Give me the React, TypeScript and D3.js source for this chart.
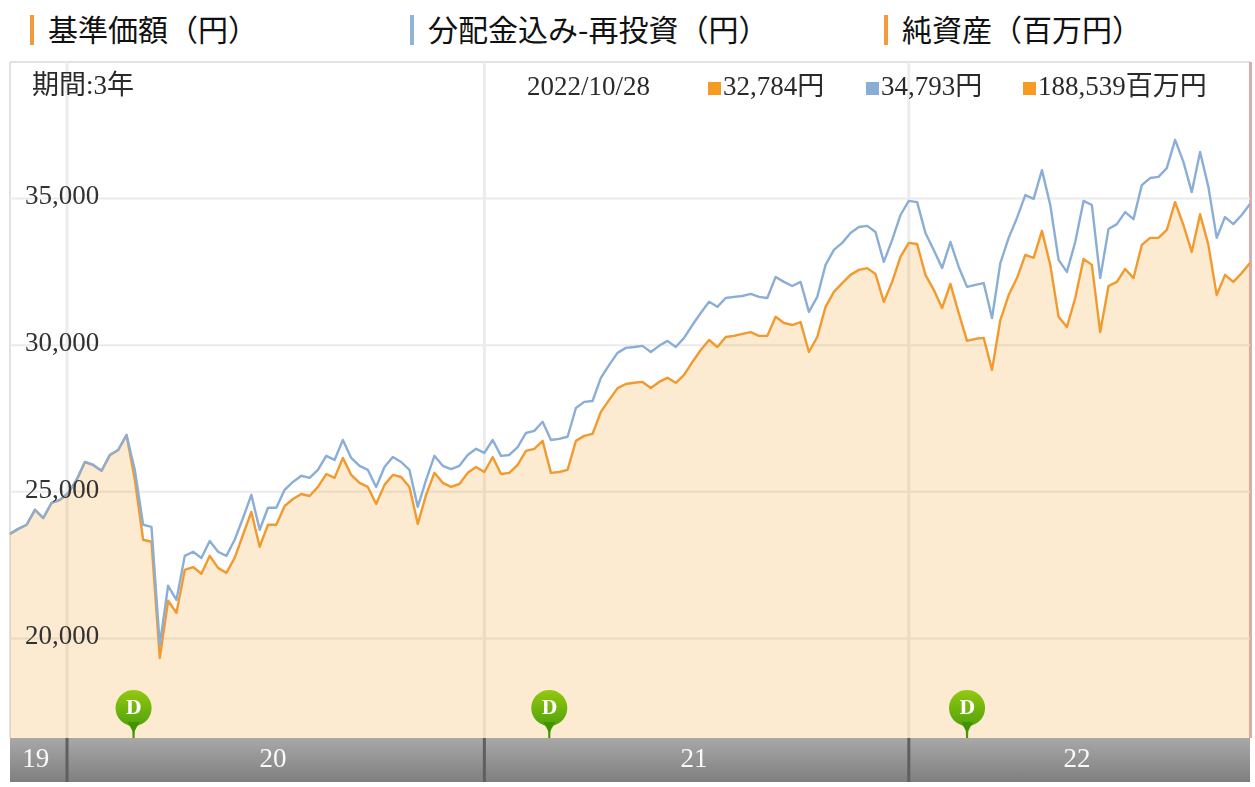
// App.tsx
import React, { useEffect, useRef } from 'react';
import * as d3 from 'd3';

const headers = ['基準価額（円）', '分配金込み-再投資（円）', '純資産（百万円）'];
const headerColors = ['#f39a3c', '#8fb4d8', '#f39a3c'];

const periodLabel = '期間:3年';
const latestDate = '2022/10/28';
const latestLabels = ['32,784円', '34,793円', '188,539百万円'];
const latestColors = ['#f59a23', '#8aadd3', '#f59a23'];

const yTicks = [20000, 25000, 30000, 35000];

// year bands on the bottom strip, in weeks from the start of the series
const yearLabels = ['19', '20', '21', '22'];
const yearStarts = [0, 6.85, 57, 108];
const yearLabelWeeks = [3.1, 31.6, 82.2, 128.2];

// weeks with a distribution
const dividendWeeks = [14.85, 64.8, 115];

const basePrice = [
  23550, 23720, 23860, 24370, 24090, 24610, 24710, 24950, 25390, 26000,
  25900, 25700, 26240, 26410, 26920, 25390, 23350, 23280, 19320, 21270,
  20860, 22320, 22420, 22190, 22800, 22390, 22220, 22730, 23520, 24300,
  23110, 23860, 23860, 24500, 24740, 24910, 24840, 25150, 25590, 25460,
  26140, 25560, 25290, 25150, 24570, 25220, 25560, 25490, 25150, 23890,
  24880, 25630, 25290, 25150, 25250, 25630, 25830, 25660, 26170, 25590,
  25630, 25900, 26380, 26450, 26720, 25630, 25660, 25730, 26720, 26890,
  26960, 27710, 28120, 28520, 28660, 28700, 28730, 28520, 28730, 28870,
  28700, 28970, 29410, 29820, 30160, 29920, 30260, 30300, 30370, 30430,
  30300, 30300, 30950, 30740, 30670, 30770, 29750, 30260, 31290, 31800,
  32100, 32380, 32550, 32610, 32410, 31460, 32140, 32990, 33470, 33430,
  32380, 31870, 31250, 32070, 31080, 30130, 30200, 30230, 29140, 30840,
  31690, 32270, 33060, 32960, 33880, 32720, 30950, 30600, 31590, 32920,
  32720, 30430, 32000, 32140, 32580, 32270, 33400, 33640, 33640, 33910,
  34860, 34080, 33160, 34450, 33400, 31690, 32380, 32140, 32440, 32784,
];

const reinvested = [
  23550, 23720, 23860, 24370, 24090, 24610, 24710, 24950, 25390, 26000,
  25900, 25700, 26240, 26410, 26920, 25730, 23860, 23790, 19770, 21780,
  21300, 22800, 22940, 22730, 23310, 22940, 22800, 23350, 24090, 24880,
  23690, 24440, 24440, 25050, 25320, 25530, 25460, 25730, 26210, 26070,
  26750, 26140, 25870, 25730, 25150, 25830, 26170, 26000, 25730, 24470,
  25390, 26210, 25870, 25760, 25870, 26240, 26450, 26310, 26750, 26210,
  26240, 26510, 26990, 27060, 27370, 26750, 26790, 26860, 27840, 28050,
  28080, 28870, 29310, 29720, 29890, 29920, 29960, 29750, 29960, 30130,
  29920, 30230, 30670, 31080, 31460, 31290, 31590, 31630, 31660, 31730,
  31630, 31590, 32310, 32140, 32000, 32140, 31120, 31630, 32720, 33230,
  33470, 33810, 34010, 34050, 33840, 32820, 33570, 34420, 34900, 34860,
  33810, 33230, 32610, 33500, 32650, 31970, 32040, 32100, 30910, 32780,
  33640, 34320, 35100, 34970, 35950, 34760, 32890, 32480, 33500, 34900,
  34760, 32270, 33940, 34110, 34520, 34280, 35440, 35680, 35720, 36020,
  36980, 36230, 35200, 36570, 35380, 33640, 34350, 34110, 34420, 34793,
];

const serif = '"Liberation Serif", serif';
const cjk = '"Noto Sans CJK JP", sans-serif';

const App: React.FC = () => {
  const svgRef = useRef<SVGSVGElement>(null);

  useEffect(() => {
    if (!svgRef.current) return;

    const left = 10;
    const right = 1250;
    const top = 62;
    const bottom = 738;
    const stripBottom = 782;

    const svg = d3.select(svgRef.current).html('');

    const defs = svg.append('defs');
    defs.append('filter').attr('id', 'soft')
      .attr('filterUnits', 'userSpaceOnUse')
      .attr('x', 0).attr('y', 50).attr('width', 1255).attr('height', 737)
      .append('feGaussianBlur').attr('stdDeviation', 0.7);

    const stripGrad = defs.append('linearGradient').attr('id', 'strip')
      .attr('x1', 0).attr('y1', 0).attr('x2', 0).attr('y2', 1);
    stripGrad.append('stop').attr('offset', '0%').attr('stop-color', '#a8a8a8');
    stripGrad.append('stop').attr('offset', '100%').attr('stop-color', '#7f7f7f');

    const pinGrad = defs.append('linearGradient').attr('id', 'pin')
      .attr('x1', 0).attr('y1', 0).attr('x2', 0).attr('y2', 1);
    pinGrad.append('stop').attr('offset', '0%').attr('stop-color', '#93c813');
    pinGrad.append('stop').attr('offset', '100%').attr('stop-color', '#3d9602');

    const xScale = d3.scaleLinear().domain([0, basePrice.length - 1]).range([left, right]);
    const yScale = d3.scaleLinear().domain([20000, 35000]).range([638, 198]);

    // Headers
    headers.forEach((h, i) => {
      const barX = [30, 410, 884][i];
      svg.append('rect')
        .attr('x', barX).attr('y', 15).attr('width', 4).attr('height', 30)
        .attr('fill', headerColors[i]);
      svg.append('text')
        .attr('x', barX + 18).attr('y', 41)
        .attr('font-family', cjk)
        .attr('font-size', 30)
        .attr('fill', '#111')
        .style('text-spacing-trim', 'space-all')
        .text(h);
    });

    const chart = svg.append('g').attr('filter', 'url(#soft)');

    // Frame
    chart.append('rect').attr('x', left).attr('y', top - 1).attr('width', right - left).attr('height', 2).attr('fill', '#e2e2e2');
    chart.append('rect').attr('x', left - 1).attr('y', top).attr('width', 2).attr('height', bottom - top).attr('fill', '#e2e2e2');
    chart.append('rect').attr('x', right - 1).attr('y', top).attr('width', 3).attr('height', bottom - top).attr('fill', '#d9adad');

    // Grid
    const yGrid = d3.axisLeft(yScale).tickValues(yTicks).tickSize(-(right - left)).tickFormat(() => '');
    const gridG = chart.append('g').attr('transform', `translate(${left},0)`).call(yGrid);
    gridG.select('.domain').remove();
    gridG.selectAll('line').attr('stroke', '#ebebeb').attr('stroke-width', 2);

    chart.selectAll('.vgrid')
      .data(yearStarts.slice(1))
      .join('line')
      .attr('class', 'vgrid')
      .attr('x1', d => xScale(d)).attr('x2', d => xScale(d))
      .attr('y1', top).attr('y2', bottom)
      .attr('stroke', '#ececec')
      .attr('stroke-width', 3);

    // Area and lines
    const area = d3.area<number>()
      .x((_, i) => xScale(i))
      .y0(bottom)
      .y1(d => yScale(d));
    const line = d3.line<number>()
      .x((_, i) => xScale(i))
      .y(d => yScale(d));

    chart.append('path').datum(basePrice)
      .attr('fill', '#ef9a23').attr('fill-opacity', 0.21)
      .attr('d', area);
    chart.append('path').datum(basePrice)
      .attr('fill', 'none').attr('stroke', '#f39a2e').attr('stroke-width', 2.4)
      .attr('stroke-linejoin', 'round')
      .attr('d', line);
    chart.append('path').datum(reinvested)
      .attr('fill', 'none').attr('stroke', '#8aaed5').attr('stroke-width', 2.4)
      .attr('stroke-linejoin', 'round')
      .attr('d', line);

    // Y labels
    const yAxis = d3.axisRight(yScale).tickValues(yTicks).tickSize(0).tickFormat(d3.format(','));
    const yG = chart.append('g').attr('transform', `translate(25,0)`).call(yAxis);
    yG.select('.domain').remove();
    yG.selectAll('text')
      .attr('x', 0)
      .attr('dy', '0.22em')
      .attr('font-family', serif)
      .attr('font-size', 27)
      .attr('fill', '#333');

    // Readout row
    const readout = chart.append('g').attr('font-size', 27).attr('fill', '#2b2b2b').attr('font-family', `${serif.split(',')[0]}, ${cjk}`);
    readout.append('text').attr('x', 32).attr('y', 94).text(periodLabel);
    readout.append('text').attr('x', 527).attr('y', 95).text(latestDate);
    latestLabels.forEach((label, i) => {
      const squareX = [708, 866, 1023][i];
      readout.append('rect')
        .attr('x', squareX).attr('y', 82).attr('width', 13).attr('height', 13)
        .attr('fill', latestColors[i]);
      readout.append('text').attr('x', squareX + 15).attr('y', 95).text(label);
    });

    // Bottom strip
    chart.append('rect')
      .attr('x', left).attr('y', bottom).attr('width', right - left).attr('height', stripBottom - bottom)
      .attr('fill', 'url(#strip)');
    chart.selectAll('.ysep')
      .data(yearStarts.slice(1))
      .join('line')
      .attr('class', 'ysep')
      .attr('x1', d => xScale(d)).attr('x2', d => xScale(d))
      .attr('y1', bottom).attr('y2', stripBottom)
      .attr('stroke', '#5f5f5f')
      .attr('stroke-width', 3);
    chart.selectAll('.ylabel')
      .data(yearLabels)
      .join('text')
      .attr('class', 'ylabel')
      .attr('x', (_, i) => xScale(yearLabelWeeks[i]))
      .attr('y', 767)
      .attr('text-anchor', 'middle')
      .attr('font-family', serif)
      .attr('font-size', 27)
      .attr('fill', '#fafafa')
      .text(d => d);

    // Distribution pins
    const pins = chart.selectAll('.pin')
      .data(dividendWeeks)
      .join('g')
      .attr('class', 'pin')
      .attr('transform', d => `translate(${xScale(d)},708)`);
    pins.append('path')
      .attr('d', 'M-1.5,16 L-1,30 L1,30 L1.5,16 Z M0,-18 A18,18 0 1,1 -0.01,-18 Z')
      .attr('fill', 'url(#pin)');
    pins.append('path')
      .attr('d', 'M-6,14 L0,25 L6,14 Z')
      .attr('fill', '#3d9602');
    pins.append('text')
      .attr('y', 6)
      .attr('text-anchor', 'middle')
      .attr('font-family', '"DejaVu Serif", serif')
      .attr('font-weight', 'bold')
      .attr('font-size', 18)
      .attr('fill', '#fff')
      .text('D');
  }, []);

  return (
    <svg
      ref={svgRef}
      width={1255}
      height={787}
      style={{ position: 'absolute', left: 0, top: 0, display: 'block', background: '#fff' }}
    ></svg>
  );
};

export default App;
